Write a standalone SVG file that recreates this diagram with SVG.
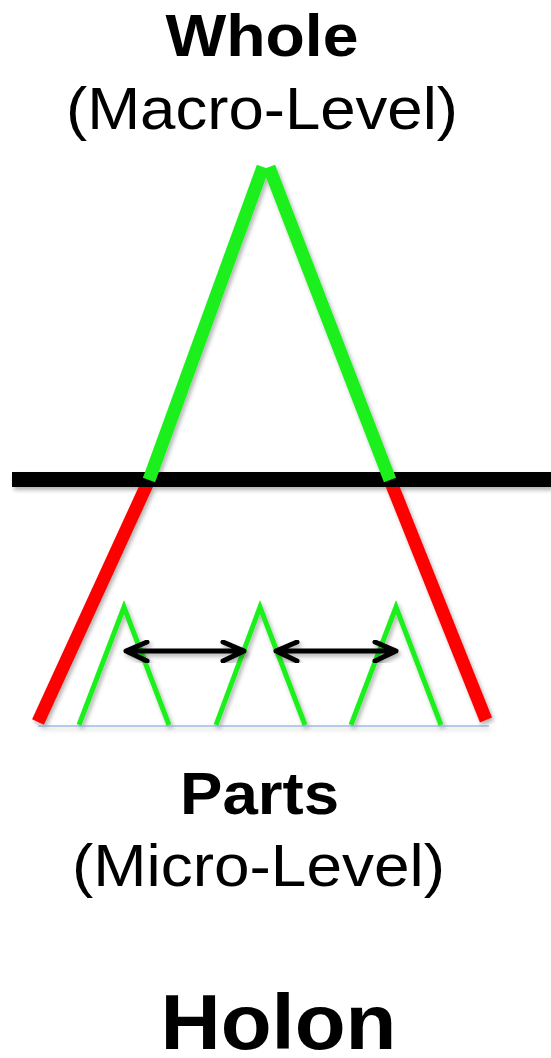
<svg xmlns="http://www.w3.org/2000/svg" width="551" height="1058" viewBox="0 0 551 1058">
<style>
.title{font-family:"Liberation Sans",Arial,sans-serif;font-weight:bold;fill:#000;text-anchor:middle}
.sub{font-family:"Liberation Sans",Arial,sans-serif;fill:#000;text-anchor:middle}
.big-g{stroke:#1cf01f;stroke-width:13;fill:none;stroke-linecap:butt}
.big-r{stroke:#ff0000;stroke-width:13;fill:none;stroke-linecap:butt}
.small{stroke:#1cf01f;stroke-width:5;fill:none;stroke-linejoin:miter;stroke-linecap:butt}
.arrow{stroke:#000;stroke-width:5;fill:none;stroke-linecap:round;stroke-linejoin:round}
</style>
<defs>
<filter id="sh" x="-10%" y="-10%" width="120%" height="120%">
<feDropShadow dx="2" dy="3" stdDeviation="2" flood-color="#000" flood-opacity="0.3"/>
</filter>
</defs>
<rect width="551" height="1058" fill="#fff"/>
<g id="label-whole">
<text class="title" x="262" y="56" font-size="60" textLength="193" lengthAdjust="spacingAndGlyphs">Whole</text>
<text class="sub" x="262" y="129" font-size="60" textLength="392" lengthAdjust="spacingAndGlyphs">(Macro-Level)</text>
</g>
<g id="whole" filter="url(#sh)">
<line class="big-r" x1="149" y1="480" x2="38" y2="722"/>
<line class="big-r" x1="390" y1="480" x2="486" y2="720"/>
<line x1="12" y1="479.5" x2="551" y2="479.5" stroke="#000" stroke-width="15"/>
<line class="big-g" x1="263" y1="167" x2="149" y2="480"/>
<line class="big-g" x1="269" y1="167" x2="390" y2="480"/>
</g>
<g id="parts" filter="url(#sh)">
<line x1="38" y1="726" x2="489" y2="726" stroke="#6f9bd6" stroke-width="1.2"/>
<polyline class="small" points="79,725 124,607 169,725"/>
<polyline class="small" points="216,725 260,607 305,725"/>
<polyline class="small" points="351,725 396,607 441,725"/>
</g>
<g id="connectors" filter="url(#sh)">
<path class="arrow" d="M126,651 H244 M147,642 L126,651 L147,661 M223,642 L244,651 L223,661"/>
<path class="arrow" d="M276,651 H396 M297,642 L276,651 L297,661 M375,642 L396,651 L375,661"/>
</g>
<g id="label-parts">
<text class="title" x="259.5" y="814" font-size="60" textLength="159" lengthAdjust="spacingAndGlyphs">Parts</text>
<text class="sub" x="258.5" y="886" font-size="60" textLength="373" lengthAdjust="spacingAndGlyphs">(Micro-Level)</text>
</g>
<g id="label-holon">
<text class="title" x="278.5" y="1049" font-size="77" textLength="236" lengthAdjust="spacingAndGlyphs">Holon</text>
</g>
</svg>
